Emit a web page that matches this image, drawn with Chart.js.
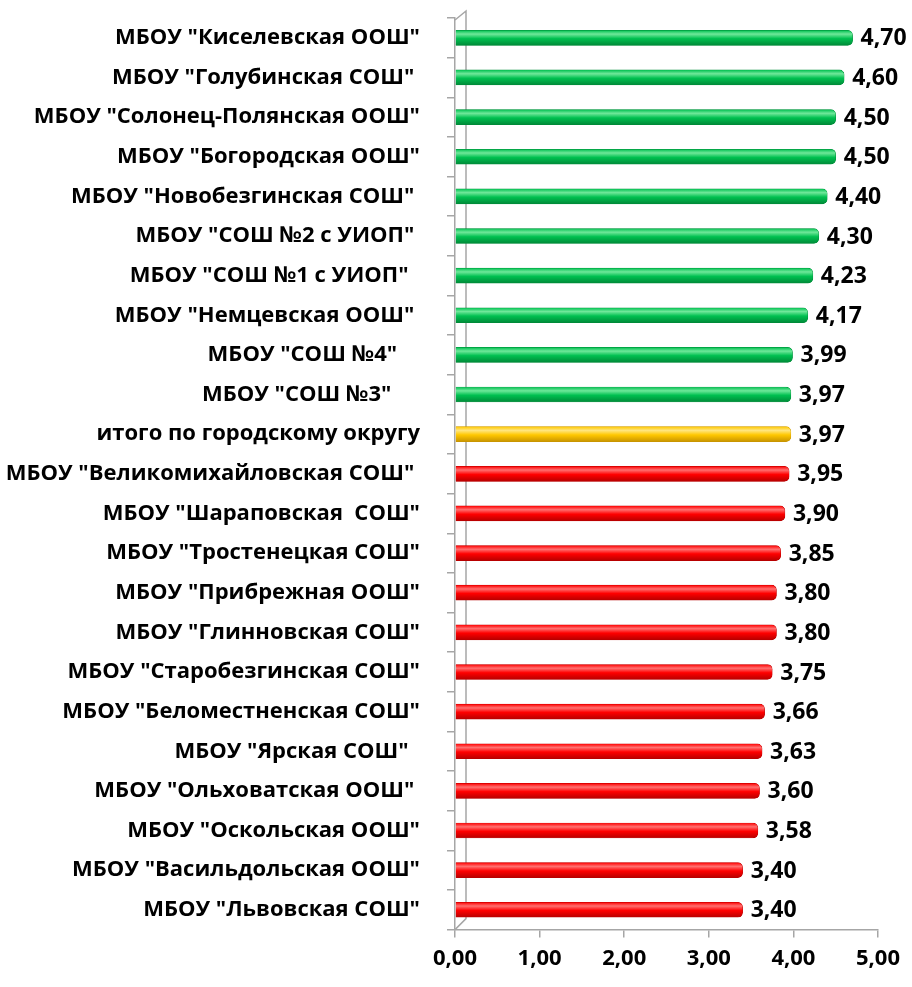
<!DOCTYPE html>
<html>
<head>
<meta charset="utf-8">
<script src="https://cdn.jsdelivr.net/npm/chart.js@4/dist/chart.umd.min.js"></script>
<style>
  html, body { margin: 0; padding: 0; background: #fff; }
  #wrap { width: 912px; height: 987px; position: relative; }
</style>
</head>
<body>
<div id="wrap"><canvas id="mycanvas1" width="912" height="987"></canvas></div>
<script>
// school names, top to bottom
var schools = [
  'МБОУ "Киселевская ООШ"',
  'МБОУ "Голубинская СОШ" ',
  'МБОУ "Солонец-Полянская ООШ"',
  'МБОУ "Богородская ООШ"',
  'МБОУ "Новобезгинская СОШ" ',
  'МБОУ "СОШ №2 с УИОП" ',
  'МБОУ "СОШ №1 с УИОП"  ',
  'МБОУ "Немцевская ООШ" ',
  'МБОУ "СОШ №4"    ',
  'МБОУ "СОШ №3"     ',
  'итого по городскому округу',
  'МБОУ "Великомихайловская СОШ" ',
  'МБОУ "Шараповская  СОШ"',
  'МБОУ "Тростенецкая СОШ"',
  'МБОУ "Прибрежная ООШ"',
  'МБОУ "Глинновская СОШ"',
  'МБОУ "Старобезгинская СОШ"',
  'МБОУ "Беломестненская СОШ"',
  'МБОУ "Ярская СОШ"  ',
  'МБОУ "Ольховатская ООШ" ',
  'МБОУ "Оскольская ООШ"',
  'МБОУ "Васильдольская ООШ"',
  'МБОУ "Львовская СОШ"'
];
var scores = [4.70, 4.60, 4.50, 4.50, 4.40, 4.30, 4.23, 4.17, 3.99, 3.97, 3.97, 3.95,
              3.90, 3.85, 3.80, 3.80, 3.75, 3.66, 3.63, 3.60, 3.58, 3.40, 3.40];
// g = above average, y = total, r = below
var groups = ['g','g','g','g','g','g','g','g','g','g','y','r','r','r','r','r','r','r','r','r','r','r','r'];
var xTicks = [0, 1, 2, 3, 4, 5];

var palette = {
  g: ['#6fe89a', '#00c050', '#008a38'],
  y: ['#ffe680', '#ffc800', '#c89400'],
  r: ['#ff7070', '#ff0000', '#b80000']
};

function fmt(v) { return v.toFixed(2).replace('.', ','); }

var FONT = "'Open Sans', 'Noto Sans', sans-serif";

// cylinder shading, one gradient per bar
function barFill(c) {
  var chart = c.chart;
  var col = palette[groups[c.dataIndex]] || palette.g;
  var ys = chart.scales.y;
  if (!ys) return col[1];
  var py = ys.getPixelForValue(c.dataIndex);
  if (!isFinite(py)) return col[1];
  var grd = chart.ctx.createLinearGradient(0, py - 7.5, 0, py + 7.5);
  grd.addColorStop(0, col[1]);
  grd.addColorStop(0.25, col[0]);
  grd.addColorStop(0.55, col[1]);
  grd.addColorStop(1, col[2]);
  return grd;
}

// values at bar ends
var valueLabels = {
  id: 'valueLabels',
  afterDatasetsDraw: function(chart) {
    var ctx = chart.ctx;
    var meta = chart.getDatasetMeta(0);
    ctx.save();
    ctx.font = 'bold 23px ' + FONT;
    ctx.fillStyle = '#000';
    ctx.textAlign = 'left';
    ctx.textBaseline = 'middle';
    meta.data.forEach(function(bar, i) {
      ctx.fillText(fmt(scores[i]), bar.x + 8, bar.y + 1);
    });
    ctx.restore();
  }
};

// 3d wall edges
var wall = {
  id: 'wall',
  beforeDraw: function(chart) {
    var a = chart.chartArea;
    var ctx = chart.ctx;
    ctx.save();
    ctx.strokeStyle = '#a6a6a6';
    ctx.lineWidth = 1.5;
    ctx.beginPath();
    ctx.moveTo(a.left, a.top + 2);
    ctx.lineTo(a.left + 11, a.top - 7);
    ctx.lineTo(a.left + 11, a.bottom - 11);
    ctx.lineTo(a.left, a.bottom);
    ctx.stroke();
    ctx.restore();
  }
};

var ctx = document.getElementById('mycanvas1');
var chart = new Chart(ctx, {
  type: 'bar',
  data: {
    labels: schools,
    datasets: [{
      data: scores,
      backgroundColor: barFill,
      borderColor: function(c) { return (palette[groups[c.dataIndex]] || palette.g)[2]; },
      borderWidth: 0.5,
      borderRadius: 5,
      borderSkipped: 'start',
      barThickness: 15
    }]
  },
  options: {
    indexAxis: 'y',
    responsive: false,
    animation: false,
    devicePixelRatio: 1,
    layout: { padding: { top: 18, right: 34, bottom: 7, left: 0 } },
    plugins: { legend: { display: false }, tooltip: { enabled: false } },
    scales: {
      x: {
        min: 0, max: 5,
        afterBuildTicks: function(s) { s.ticks = xTicks.map(function(v) { return { value: v }; }); },
        grid: { drawOnChartArea: false, drawTicks: true, tickLength: 8, color: '#a6a6a6', lineWidth: 1.5 },
        border: { display: true, color: '#a6a6a6', width: 1.5 },
        ticks: {
          padding: 8,
          color: '#000',
          font: { family: FONT, size: 22, weight: 'bold' },
          callback: function(v) { return fmt(v); }
        }
      },
      y: {
        afterFit: function(s) { s.width = 455; s.paddingTop = 0; s.paddingBottom = 0; },
        grid: { drawOnChartArea: false, drawTicks: true, tickLength: 8, color: '#a6a6a6', lineWidth: 1.5, offset: true },
        border: { display: true, color: '#a6a6a6', width: 1.5 },
        ticks: {
          padding: 27,
          color: '#000',
          autoSkip: false,
          font: { family: FONT, size: 22, weight: 'bold' }
        }
      }
    }
  },
  plugins: [wall, valueLabels]
});
</script>
</body>
</html>
